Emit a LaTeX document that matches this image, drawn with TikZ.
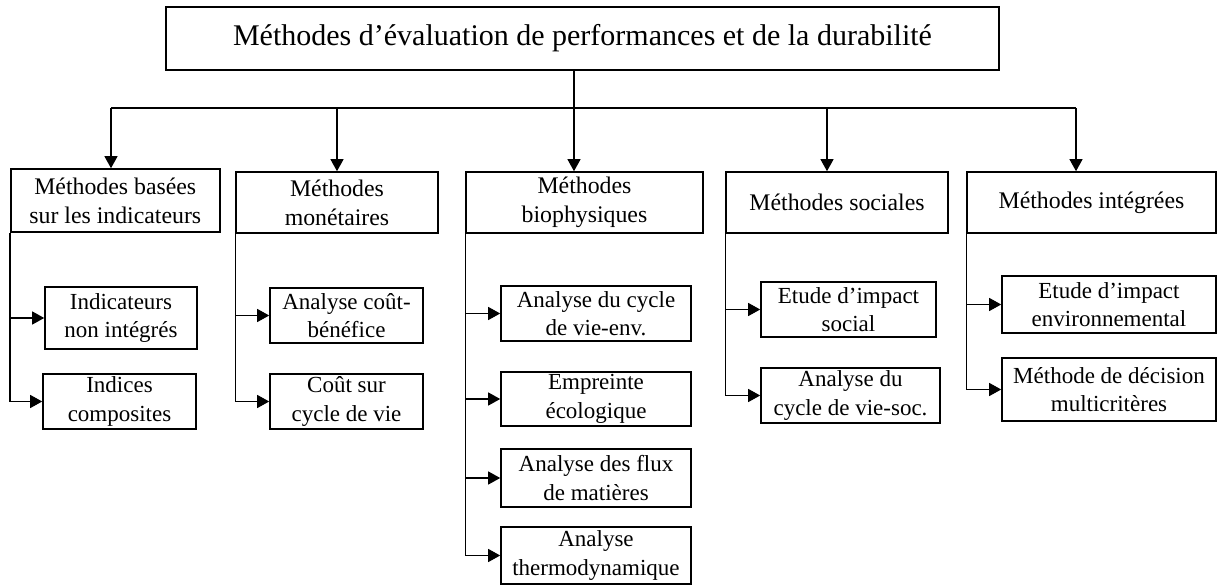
\documentclass[tikz,border=0pt]{standalone}
\usepackage{fontspec}
\setmainfont{Liberation Serif}
\usetikzlibrary{arrows.meta}
\begin{document}
\begin{tikzpicture}[x=1pt,y=-1pt,
  box/.style={draw, line width=1.6pt, align=center, inner sep=0pt,
    font=\fontsize{23}{28.5}\selectfont},
  mainbox/.style={box, font=\fontsize{23.8}{29}\selectfont},
  link/.style={line width=1.1pt},
  arr/.style={link, -{Triangle[length=12pt,width=13pt]}}]
\useasboundingbox (0,0) rectangle (1220,585);
% title
\node[box, minimum width=833pt, minimum height=63pt, font=\fontsize{30}{36}\selectfont] (top) at (582.5,38.5) {Méthodes d’évaluation de performances et de la durabilité};
% main categories
\node[mainbox, minimum width=209pt, minimum height=63pt] (m1) at (115.3,200.5) {Méthodes basées\\sur les indicateurs};
\node[mainbox, minimum width=202pt, minimum height=61pt] (m2) at (337,202.5) {Méthodes\\monétaires};
\node[mainbox, minimum width=237pt, minimum height=61pt] (m3) at (584.5,202.5) {Méthodes\\biophysiques};
\node[mainbox, minimum width=222pt, minimum height=61pt] (m4) at (837,202.5) {Méthodes sociales};
\node[mainbox, minimum width=249pt, minimum height=61pt] (m5) at (1091.5,202.5) {Méthodes intégrées};
% sub boxes
\node[box, minimum width=152pt, minimum height=62pt] (s1a) at (121,318) {Indicateurs\\non intégrés};
\node[box, minimum width=153pt, minimum height=55pt] (s1b) at (119.5,401.5) {Indices\\composites};
\node[box, minimum width=153pt, minimum height=55pt] (s2a) at (346.5,315.5) {Analyse coût-\\bénéfice};
\node[box, minimum width=153pt, minimum height=55pt] (s2b) at (346.5,401.5) {Coût sur\\cycle de vie};
\node[box, minimum width=190pt, minimum height=55pt] (s3a) at (596,313.5) {Analyse du cycle\\de vie-env.};
\node[box, minimum width=190pt, minimum height=54pt] (s3b) at (596,399) {Empreinte\\écologique};
\node[box, minimum width=190pt, minimum height=58pt] (s3c) at (596,478) {Analyse des flux\\de matières};
\node[box, minimum width=190pt, minimum height=57pt] (s3d) at (596,555.5) {Analyse\\thermodynamique};
\node[box, minimum width=175pt, minimum height=55pt] (s4a) at (848.5,309.5) {Etude d’impact\\social};
\node[box, minimum width=179pt, minimum height=55pt] (s4b) at (850.5,395.5) {Analyse du\\cycle de vie-soc.};
\node[box, minimum width=214pt, minimum height=57pt] (s5a) at (1109,304.5) {Etude d’impact\\environnemental};
\node[box, minimum width=214pt, minimum height=63pt] (s5b) at (1109,389.5) {Méthode de décision\\multicritères};
% bus
\coordinate (bus1) at (111,108);
\coordinate (bus2) at (337,108);
\coordinate (bus3) at (574,108);
\coordinate (bus4) at (827,108);
\coordinate (bus5) at (1076,108);
\draw[link] (bus1) -- (bus5);
\draw[arr] (bus3 |- top.south) -- (bus3 |- m3.north);
\draw[arr] (bus1) -- (bus1 |- m1.north);
\draw[arr] (bus2) -- (bus2 |- m2.north);
\draw[arr] (bus4) -- (bus4 |- m4.north);
\draw[arr] (bus5) -- (bus5 |- m5.north);
% trunks
\draw[link] (m1.south west) -- (m1.south west |- s1b.west);
\draw[arr] (m1.south west |- s1a.west) -- (s1a.west);
\draw[arr] (m1.south west |- s1b.west) -- (s1b.west);
\draw[link] (m2.south west) -- (m2.south west |- s2b.west);
\draw[arr] (m2.south west |- s2a.west) -- (s2a.west);
\draw[arr] (m2.south west |- s2b.west) -- (s2b.west);
\draw[link] (m3.south west) -- (m3.south west |- s3d.west);
\draw[arr] (m3.south west |- s3a.west) -- (s3a.west);
\draw[arr] (m3.south west |- s3b.west) -- (s3b.west);
\draw[arr] (m3.south west |- s3c.west) -- (s3c.west);
\draw[arr] (m3.south west |- s3d.west) -- (s3d.west);
\draw[link] (m4.south west) -- (m4.south west |- s4b.west);
\draw[arr] (m4.south west |- s4a.west) -- (s4a.west);
\draw[arr] (m4.south west |- s4b.west) -- (s4b.west);
\draw[link] (m5.south west) -- (m5.south west |- s5b.west);
\draw[arr] (m5.south west |- s5a.west) -- (s5a.west);
\draw[arr] (m5.south west |- s5b.west) -- (s5b.west);
\end{tikzpicture}
\end{document}
